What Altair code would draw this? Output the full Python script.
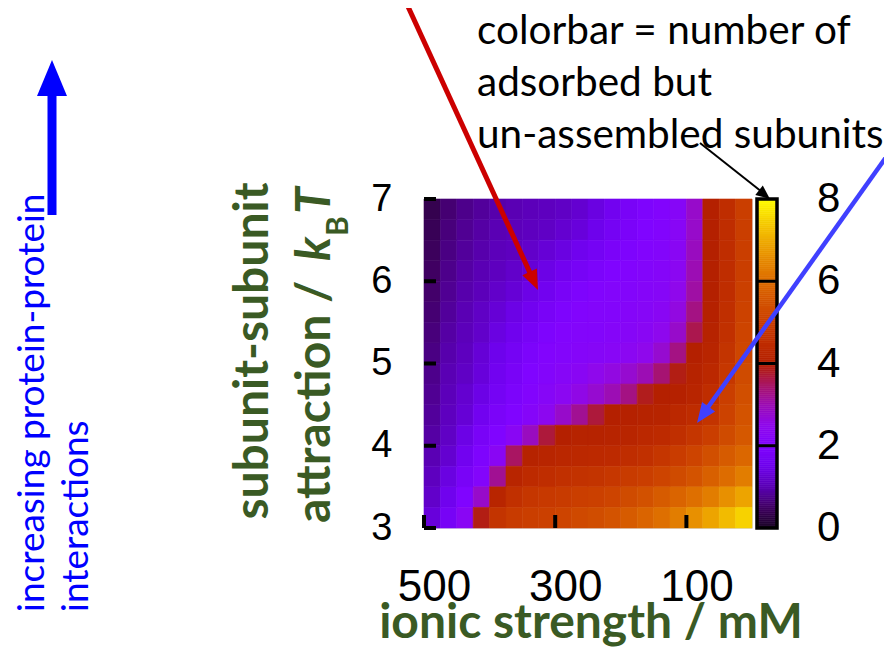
import altair as alt
import pandas as pd

# ---- data ----
ionic_mM = [487.5, 462.5, 437.5, 412.5, 387.5, 362.5, 337.5, 312.5, 287.5, 262.5,
            237.5, 212.5, 187.5, 162.5, 137.5, 112.5, 87.5, 62.5, 37.5, 12.5]
attraction = [6.875, 6.625, 6.375, 6.125, 5.875, 5.625, 5.375, 5.125,
              4.875, 4.625, 4.375, 4.125, 3.875, 3.625, 3.375, 3.125]
subunits = [
    [0.35, 0.6, 0.75, 0.85, 0.95, 1.0, 1.05, 1.1, 1.15, 1.25, 1.4, 1.6, 1.8, 1.95, 2.05, 2.2, 2.8, 4.0, 4.5, 5.0],
    [0.4, 0.65, 0.8, 0.9, 1.0, 1.05, 1.1, 1.15, 1.25, 1.35, 1.5, 1.7, 1.85, 2.0, 2.05, 2.25, 2.8, 4.0, 4.5, 5.0],
    [0.45, 0.7, 0.85, 0.95, 1.05, 1.1, 1.2, 1.3, 1.4, 1.55, 1.7, 1.85, 1.95, 2.05, 2.1, 2.3, 2.9, 4.0, 4.5, 5.0],
    [0.5, 0.75, 0.9, 1.0, 1.1, 1.2, 1.3, 1.45, 1.6, 1.75, 1.9, 2.0, 2.05, 2.1, 2.15, 2.35, 3.0, 4.0, 4.5, 5.0],
    [0.55, 0.8, 0.95, 1.05, 1.2, 1.3, 1.45, 1.6, 1.8, 1.95, 2.05, 2.1, 2.1, 2.15, 2.2, 2.5, 3.1, 4.0, 4.5, 5.05],
    [0.6, 0.85, 1.0, 1.15, 1.3, 1.45, 1.6, 1.8, 1.95, 2.05, 2.1, 2.1, 2.15, 2.2, 2.3, 2.6, 3.3, 4.05, 4.55, 5.1],
    [0.65, 0.9, 1.05, 1.2, 1.4, 1.55, 1.75, 1.95, 2.05, 2.1, 2.1, 2.15, 2.2, 2.3, 2.45, 2.8, 3.6, 4.1, 4.6, 5.15],
    [0.7, 0.95, 1.1, 1.3, 1.5, 1.7, 1.9, 2.05, 2.1, 2.15, 2.2, 2.25, 2.35, 2.5, 2.75, 3.3, 4.0, 4.2, 4.7, 5.2],
    [0.75, 1.0, 1.15, 1.35, 1.6, 1.8, 2.0, 2.1, 2.2, 2.3, 2.5, 2.6, 2.75, 3.0, 3.4, 3.9, 4.1, 4.3, 4.8, 5.3],
    [0.8, 1.05, 1.25, 1.45, 1.7, 1.9, 2.05, 2.2, 2.35, 2.55, 2.75, 3.0, 3.3, 3.85, 4.0, 4.05, 4.2, 4.5, 5.0, 5.4],
    [0.85, 1.1, 1.3, 1.6, 1.85, 2.0, 2.15, 2.4, 2.8, 3.2, 3.7, 4.0, 4.05, 4.1, 4.15, 4.3, 4.45, 4.7, 5.1, 5.5],
    [0.9, 1.15, 1.45, 1.8, 2.0, 2.3, 2.9, 3.7, 4.0, 4.1, 4.1, 4.15, 4.2, 4.3, 4.4, 4.55, 4.75, 5.0, 5.3, 5.6],
    [1.0, 1.25, 1.6, 1.95, 2.3, 3.5, 4.1, 4.2, 4.25, 4.3, 4.35, 4.4, 4.5, 4.6, 4.75, 4.95, 5.15, 5.4, 5.65, 5.9],
    [1.1, 1.4, 1.8, 2.1, 3.2, 4.2, 4.4, 4.5, 4.6, 4.65, 4.7, 4.8, 4.9, 5.0, 5.15, 5.3, 5.5, 5.75, 6.0, 6.3],
    [1.2, 1.55, 2.0, 2.8, 4.2, 4.6, 4.75, 4.85, 4.9, 5.0, 5.05, 5.15, 5.3, 5.45, 5.65, 5.85, 6.05, 6.3, 6.6, 6.9],
    [1.35, 1.75, 2.3, 3.9, 4.7, 4.9, 5.0, 5.05, 5.15, 5.25, 5.35, 5.5, 5.65, 5.85, 6.05, 6.3, 6.6, 6.9, 7.2, 7.5],
]
x_ticks = [500, 300, 100]
y_ticks = [3, 4, 5, 6, 7]
cbar_ticks = [0, 2, 4, 6, 8]
cbar_inner_ticks = [2, 4, 6]

# gnuplot-like palette stops (value -> colour)
palette_values = [0, 0.5, 1, 1.5, 2, 2.5, 3, 3.5, 4, 4.5, 5, 5.5, 6, 6.5, 7, 7.5, 8]
palette_colors = ["#1a0624", "#400062", "#5a00b4", "#6e02ec", "#8004ff", "#8f08ec",
                  "#9c0db4", "#a91562", "#b42000", "#bf2d00", "#ca3e00", "#d35300",
                  "#dd6c00", "#e68900", "#efab00", "#f7d200", "#ffff00"]

HALF_X = 12.5
HALF_Y = 0.125
rows = []
for j, yv in enumerate(attraction):
    for i, xv in enumerate(ionic_mM):
        rows.append({"x0": xv - HALF_X, "x1": xv + HALF_X,
                     "y0": yv - HALF_Y, "y1": yv + HALF_Y,
                     "v": subunits[j][i]})
df = pd.DataFrame(rows)

# colour-bar strip: the colour scale sampled in thin slices (a legend, not data)
CB_STEP = 0.05
cb_rows = []
k = 0
while k * CB_STEP < 8 - 1e-9:
    lo = round(k * CB_STEP, 4)
    cb_rows.append({"c0": lo, "c1": round(lo + CB_STEP, 4), "v": round(lo + CB_STEP / 2, 4)})
    k += 1
cb_df = pd.DataFrame(cb_rows)

W, H = 328, 329
GREEN = "#3a5a24"
TXTFONT = "Lato"
NUMFONT = "Liberation Sans"
CB_X0, CB_X1 = 333, 353

xscale = alt.Scale(domain=[0, 500], reverse=True, nice=False, zero=False)
yscale = alt.Scale(domain=[3, 7], nice=False, zero=False)
cbscale = alt.Scale(domain=[0, 8], nice=False, zero=False)
cscale = alt.Scale(domain=palette_values, range=palette_colors, interpolate="rgb")

heat = alt.Chart(df).mark_rect(strokeWidth=0.6).encode(
    x=alt.X("x0:Q", scale=xscale, title=None,
            axis=alt.Axis(values=x_ticks, labelFontSize=44, labelFont=NUMFONT,
                          labelColor="black", labelPadding=37, labelOffset=10,
                          labelFlush=False, ticks=False, domain=False, grid=False,
                          format="d")),
    x2="x1:Q",
    y=alt.Y("y0:Q", scale=yscale, title=None,
            axis=alt.Axis(values=y_ticks, labelFontSize=38, labelFont=NUMFONT,
                          labelColor="black", labelPadding=32, labelFlush=False,
                          ticks=False, domain=False, grid=False, format="d")),
    y2="y1:Q",
    color=alt.Color("v:Q", scale=cscale, legend=None),
    stroke=alt.Stroke("v:Q", scale=cscale, legend=None),
)

xt = alt.Chart(pd.DataFrame({"t": x_ticks})).mark_rule(color="black", strokeWidth=4).encode(
    x=alt.X("t:Q", scale=xscale, title=None), y=alt.value(H), y2=alt.value(H - 13))
yt = alt.Chart(pd.DataFrame({"t": y_ticks})).mark_rule(color="black", strokeWidth=4).encode(
    y=alt.Y("t:Q", scale=yscale, title=None), x=alt.value(0), x2=alt.value(12))

main = alt.layer(heat, xt, yt)

# manual colour bar on its own y scale
cb_strip = alt.Chart(cb_df).mark_rect(strokeWidth=0.6).encode(
    y=alt.Y("c0:Q", scale=cbscale, axis=None), y2="c1:Q",
    x=alt.value(CB_X0), x2=alt.value(CB_X1),
    color=alt.Color("v:Q", scale=cscale, legend=None),
    stroke=alt.Stroke("v:Q", scale=cscale, legend=None),
)
cb_tick = alt.Chart(pd.DataFrame({"c": cbar_inner_ticks})).mark_rule(
    color="black", strokeWidth=3).encode(
    y=alt.Y("c:Q", scale=cbscale, axis=None), x=alt.value(CB_X0), x2=alt.value(CB_X1))
cb_frame = alt.Chart(pd.DataFrame({"lo": [cbar_ticks[0]], "hi": [cbar_ticks[-1]]})).mark_rect(
    filled=False, stroke="black", strokeWidth=3.5).encode(
    y=alt.Y("lo:Q", scale=cbscale, axis=None), y2="hi:Q",
    x=alt.value(CB_X0), x2=alt.value(CB_X1))
cb_lab = alt.Chart(pd.DataFrame({"c": cbar_ticks})).mark_text(
    font=NUMFONT, fontSize=42, color="black", align="left", baseline="middle").encode(
    y=alt.Y("c:Q", scale=cbscale, axis=None), x=alt.value(393), text=alt.Text("c:Q", format="d"))
cbar = alt.layer(cb_strip, cb_tick, cb_frame, cb_lab)

one = pd.DataFrame({"a": [0]})


def txt(s, x, y, **kw):
    return alt.Chart(one).mark_text(text=s, **kw).encode(x=alt.value(x), y=alt.value(y))


def line(x1, y1, x2, y2, color, w):
    return alt.Chart(one).mark_rule(color=color, strokeWidth=w).encode(
        x=alt.value(x1), y=alt.value(y1), x2=alt.value(x2), y2=alt.value(y2))


def head(cx, cy, length, halfw, angle, color):
    hw = round(halfw / (length / 2), 3)
    path = f"M0,-1L{hw},1L-{hw},1Z"
    return alt.Chart(one).mark_point(shape=path, filled=True, color=color, opacity=1,
                                     strokeWidth=0, size=length * length, angle=angle).encode(
        x=alt.value(cx), y=alt.value(cy))


notes = []
# top annotation text
top_kw = dict(font=TXTFONT, fontSize=40.5, color="black", align="left", baseline="alphabetic")
notes += [txt("colorbar = number of", 53, -155, **top_kw),
          txt("adsorbed but", 53, -103, **top_kw),
          txt("un-assembled subunits", 53, -51, **top_kw)]

# arrows
notes += [line(-19, -199, 107, 76, "#cc0000", 5), head(109.8, 81.9, 20, 8, 155.4, "#cc0000")]
notes += [line(468, -50, 282, 211, "#4040ff", 4.5), head(278.8, 215.9, 20, 8, 215.4, "#4040ff")]
notes += [line(276, -56, 338, -7, "black", 2), head(340.5, -4.4, 14, 6, 128.7, "black")]
notes += [line(-372, 16, -372, -104, "#0000ff", 9), head(-372, -121, 36, 15, 0, "#0000ff")]

# left blue rotated text
blue_kw = dict(font=TXTFONT, fontSize=37, color="#0000ff", align="left", baseline="middle", angle=270)
notes += [txt("increasing protein-protein", -391, 413, **blue_kw),
          txt("interactions", -347, 413, **blue_kw)]

# green axis titles
g_kw = dict(font=TXTFONT, fontSize=48, fontWeight="bold", color=GREEN)
notes += [txt("subunit-subunit", -156, 152, angle=270, align="center", baseline="alphabetic", **g_kw),
          txt("attraction /", -94, 324, angle=270, align="left", baseline="alphabetic", **g_kw),
          txt("k", -94, 62, angle=270, align="left", baseline="alphabetic", fontStyle="italic", **g_kw),
          txt("B", -76, 37, angle=270, align="left", baseline="alphabetic", font=TXTFONT,
              fontSize=30, fontWeight="bold", color=GREEN),
          txt("T", -94, 15, angle=270, align="left", baseline="alphabetic", fontStyle="italic", **g_kw),
          txt("ionic strength / mM", 167, 439, align="center", baseline="alphabetic",
              font=TXTFONT, fontSize=48, fontWeight="bold", color=GREEN)]

chart = alt.layer(main, cbar, *notes).resolve_scale(y="independent").properties(
    width=W, height=H,
    autosize=alt.AutoSizeParams(type="none"),
    padding={"left": 416, "top": 191, "right": 132, "bottom": 119},
).configure_view(stroke="black", strokeWidth=3).configure(background="white")

chart.save("out.html", embed_options={"renderer": "svg", "actions": False})
